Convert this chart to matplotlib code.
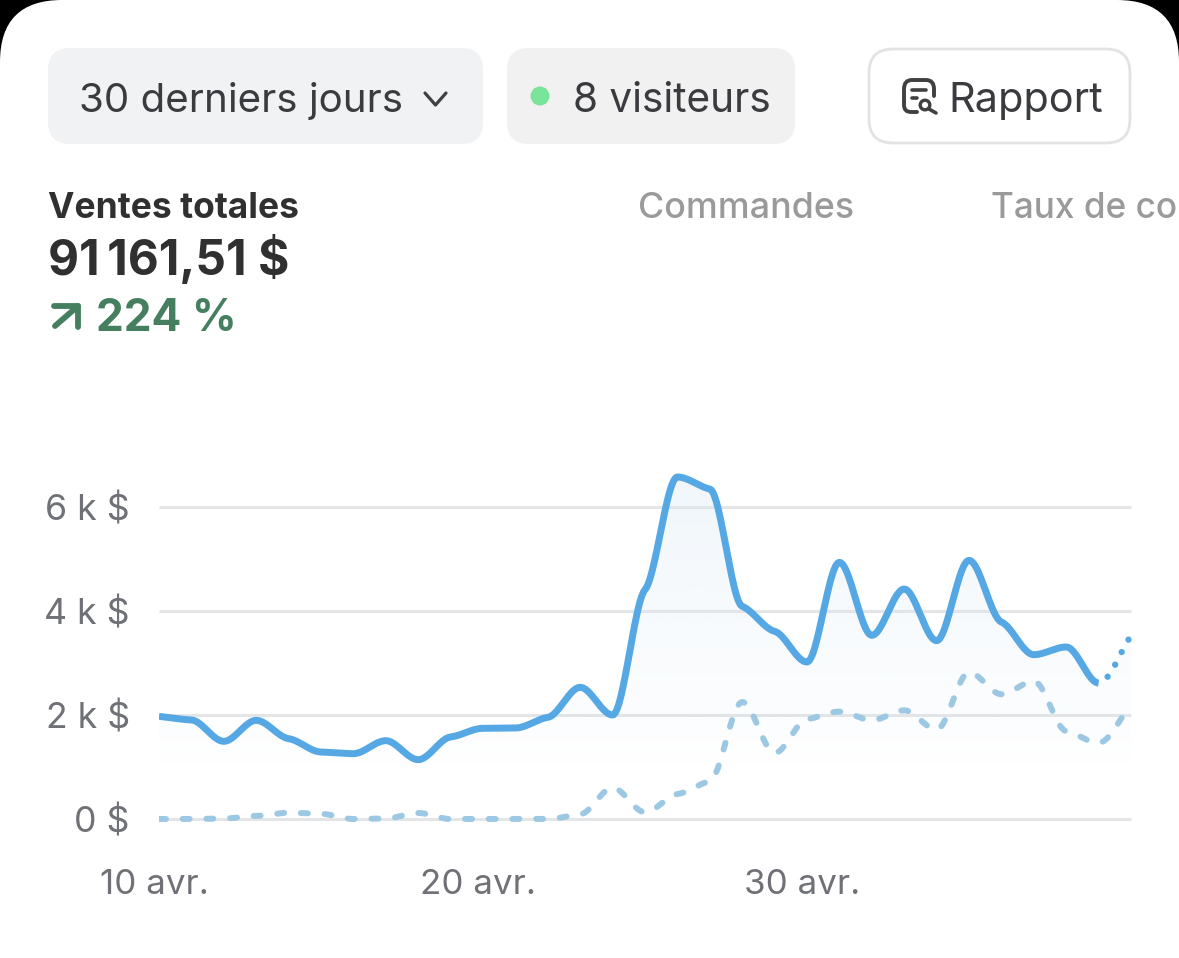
import numpy as np
import matplotlib
matplotlib.use('Agg')
from matplotlib import pyplot as plt
from matplotlib.patches import FancyBboxPatch, Circle, PathPatch, Rectangle
from matplotlib.path import Path
from matplotlib.transforms import ScaledTranslation

plt.rcParams['font.family'] = ['Inter', 'DejaVu Sans']
plt.rcParams['lines.scale_dashes'] = False

# daily values
days = np.arange(31)
sales = [1974, 1904, 1494, 1897, 1545, 1288, 1256, 1506, 1141, 1577, 1744,
         1750, 1955, 2532, 2000, 4410, 6577, 6346, 4090, 3609, 3019, 4936,
         3532, 4423, 3429, 4974, 3788, 3160, 3308, 2615, 3526]
previous = [0, 0, 10, 60, 120, 100, 0, 10, 115, 0, 0,
            0, 0, 90, 600, 130, 480, 725, 2250, 1270, 1920, 2065,
            1900, 2090, 1720, 2820, 2400, 2650, 1690, 1465, 2200]
y_ticks = [0, 2000, 4000, 6000]
y_labels = ['0 $', '2 k $', '4 k $', '6 k $']
x_ticks = [0, 10, 20]
x_labels = ['10 avr.', '20 avr.', '30 avr.']

W, H = 1179, 958
BLUE = '#55a8e4'
PALE = '#9cc8e3'


def smooth(x, y, tension=0.3, n=24):
    # cubic through the daily points, nearly flat at each one like the web chart
    x = np.asarray(x, float)
    y = np.asarray(y, float)
    h = np.diff(x)
    s = np.diff(y) / h
    m = np.zeros_like(y)
    for i in range(1, len(y) - 1):
        if s[i - 1] * s[i] > 0:
            m[i] = tension * 2 * s[i - 1] * s[i] / (s[i - 1] + s[i])
    m[0], m[-1] = s[0], s[-1]
    xs, ys = [], []
    for i in range(len(h)):
        t = np.linspace(0, 1, n, endpoint=False)
        xs.append(x[i] + t * h[i])
        ys.append((2*t**3 - 3*t**2 + 1) * y[i] + (t**3 - 2*t**2 + t) * h[i] * m[i]
                  + (-2*t**3 + 3*t**2) * y[i + 1] + (t**3 - t**2) * h[i] * m[i + 1])
    return np.append(np.concatenate(xs), x[-1]), np.append(np.concatenate(ys), y[-1])


fig = plt.figure(figsize=(W / 100, H / 100), dpi=100, facecolor='black')

# page layer in pixel coordinates
ui = fig.add_axes([0, 0, 1, 1])
ui.set_xlim(0, W)
ui.set_ylim(H, 0)
ui.axis('off')
ui.add_patch(FancyBboxPatch((0, 0), W, H + 200, boxstyle='round,pad=0,rounding_size=62',
                            fc='white', ec='none'))
ui.add_patch(FancyBboxPatch((48, 48), 435, 96, boxstyle='round,pad=0,rounding_size=22',
                            fc='#f1f2f4', ec='none'))
ui.add_patch(FancyBboxPatch((507, 48), 288, 96, boxstyle='round,pad=0,rounding_size=22',
                            fc='#f1f1f1', ec='none'))
ui.add_patch(FancyBboxPatch((869, 49), 261, 94, boxstyle='round,pad=0,rounding_size=24',
                            fc='white', ec='#e3e3e3', lw=2))
ui.add_patch(Circle((540, 96), 9.5, fc='#7be49b', ec='none'))
ui.plot([425, 435.5, 446], [93, 105, 93], color='#3f4043', lw=2.3,
        solid_capstyle='round', solid_joinstyle='round')

# report icon
icon = Path([(917, 112), (911, 112), (904, 112), (904, 105), (904, 89), (904, 80), (912, 80),
             (926, 80), (934, 80), (934, 89), (934, 96)],
            [Path.MOVETO, Path.LINETO, Path.CURVE3, Path.CURVE3, Path.LINETO, Path.CURVE3, Path.CURVE3,
             Path.LINETO, Path.CURVE3, Path.CURVE3, Path.LINETO])
ui.add_patch(PathPatch(icon, fc='none', ec='#404040', lw=2.8, capstyle='round'))
ui.plot([912, 926], [90, 90], color='#404040', lw=2.6, solid_capstyle='round')
ui.plot([912, 917], [98, 98], color='#404040', lw=2.6, solid_capstyle='round')
ui.add_patch(Circle((925, 105), 4.8, fc='white', ec='#404040', lw=2.4))
ui.plot([929, 936], [109, 113], color='#404040', lw=2.6, solid_capstyle='round')

ui.text(79, 112, '30 derniers jours', fontsize=29, color='#3a3b3e', va='baseline')
ui.text(573, 112, '8 visiteurs', fontsize=29.2, color='#3a3b3e', va='baseline')
ui.text(948, 112, 'Rapport', fontsize=29.8, color='#3a3b3e', va='baseline')
ui.text(48, 218, 'Ventes totales', fontsize=25.5, color='#303030', va='baseline', fontweight='bold')
ui.text(638, 218, 'Commandes', fontsize=25.8, color='#9a9a9a', va='baseline', fontweight='medium')
ui.text(991, 218, 'Taux de co', fontsize=25.3, color='#9a9a9a', va='baseline', fontweight='medium')
ui.text(48, 275, '91\u2009161,51 $', fontsize=34.4, color='#303030', va='baseline', fontweight='bold')
ui.text(96, 331, '224 %', fontsize=31.8, color='#457f60', va='baseline', fontweight='bold')
ui.plot([55, 78, 78], [326, 306, 327], color='#457f60', lw=4.2, solid_capstyle='round',
        solid_joinstyle='round')
ui.plot([54, 78], [306, 306], color='#457f60', lw=4.2, solid_capstyle='round')

# chart layer: 0 sits at y=819 px, 6k at y=507 px
top_val = 6800
top_px = 819 - top_val * 52 / 1000
ax = fig.add_axes([159 / W, (H - 819) / H, (1131 - 159) / W, (819 - top_px) / H])
ax.patch.set_alpha(0)
ax.set_xlim(0, 30)
ax.set_ylim(0, top_val)
for s in ax.spines.values():
    s.set_visible(False)

ax.set_yticks(y_ticks, y_labels, fontsize=25.7, color='#6f7177')
ax.set_xticks(x_ticks, x_labels, fontsize=25.2, color='#6f7177')
ax.tick_params(length=0)
ax.tick_params(axis='y', pad=21)
ax.tick_params(axis='x', pad=36)
for lab in ax.get_xticklabels():
    lab.set_transform(lab.get_transform() + ScaledTranslation(-5 / 100, 0, fig.dpi_scale_trans))
ax.grid(axis='y', color='#e4e5e7', lw=2.2, zorder=1)
ax.set_axisbelow(True)
for gl in ax.get_ygridlines():
    gl.set_clip_on(False)
    gl.set_solid_capstyle('butt')

sx, sy = smooth(days, sales)
px, py = smooth(days, previous)

# area under the current period, very pale and fading downwards
area = ax.fill_between(sx, sy, 0, color='none')
levels = np.linspace(top_val, 0, 256)
rgba = np.zeros((256, 1, 4))
rgba[..., :3] = matplotlib.colors.to_rgb('#d3e5f3')
rgba[:, 0, 3] = np.interp(levels, [1000, 2000, 4000, 6500], [0, 0.08, 0.17, 0.32])
img = ax.imshow(rgba, extent=[0, 30, 0, top_val], aspect='auto', zorder=2, origin='upper')
img.set_clip_path(area.get_paths()[0], ax.transData)
ax.set_xlim(0, 30)
ax.set_ylim(0, top_val)

# only clip at the left and right, the dashes on the zero line stay whole
keep = Rectangle((0, -400), 30, top_val + 400, transform=ax.transData)
pale_line, = ax.plot(px, py, color=PALE, lw=4.3, dashes=(5, 12.06), dash_capstyle='round', zorder=3)
pale_line.set_clip_path(keep)
solid = sx <= days[-2]
main_line, = ax.plot(sx[solid], sy[solid], color=BLUE, lw=5, solid_capstyle='butt',
                     solid_joinstyle='round', zorder=4)
main_line.set_clip_path(keep)
ax.plot(sx[~solid], sy[~solid], color=BLUE, lw=4.6, ls=(3, (0.01, 10.2)), dash_capstyle='round',
        zorder=4, clip_on=False)

fig.savefig('out.png', dpi=100, facecolor='black')
